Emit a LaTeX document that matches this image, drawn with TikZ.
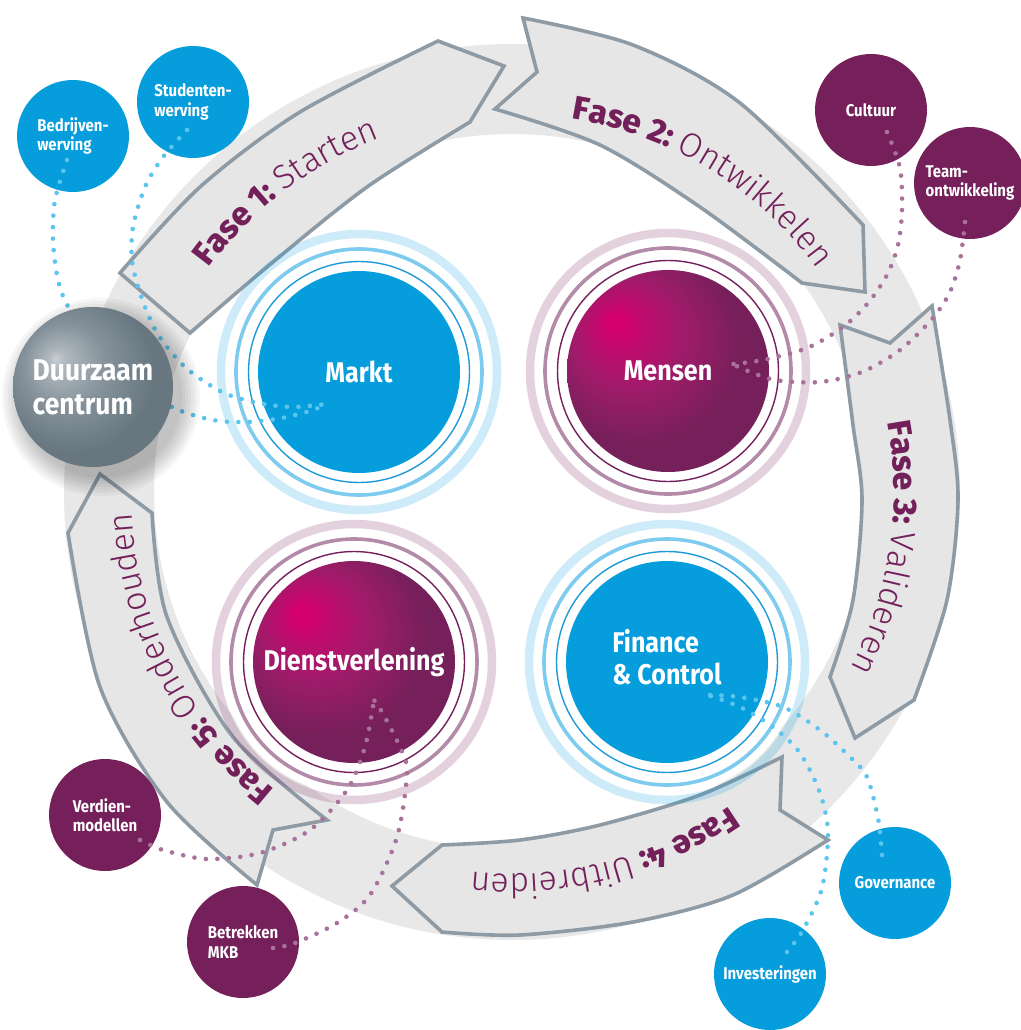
\documentclass[tikz,border=0pt]{standalone}
\usepackage{fontspec}
\usetikzlibrary{decorations.text}
\setmainfont{Fira Sans}
\newfontfamily\condf[FakeStretch=0.88]{Fira Sans}
\IfFontExistsTF{Fira Sans ExtraBold}{\newfontfamily\fphb{Fira Sans ExtraBold}\newcommand\fphbser{}}{\newfontfamily\fphb{Fira Sans}\newcommand\fphbser{\bfseries}}
\IfFontExistsTF{Fira Sans Light}{\newfontfamily\fphl{Fira Sans Light}}{\newfontfamily\fphl{Fira Sans}}
\newcommand\PHB{\fontsize{33}{40}\selectfont\fphb\fphbser}
\newcommand\PHL{\fontsize{34}{40}\selectfont\fphl}

\definecolor{ringg}{HTML}{E8E8E8}
\definecolor{arrfill}{HTML}{E6E6E6}
\definecolor{arrline}{HTML}{8E9BA5}
\definecolor{blueF}{HTML}{069DDC}
\definecolor{blueThin}{HTML}{1E9BD7}
\definecolor{blueMid}{HTML}{7DCBEE}
\definecolor{purF}{HTML}{75205A}
\definecolor{purMid}{HTML}{B38BA8}
\definecolor{magA}{HTML}{D4006E}
\definecolor{magB}{HTML}{C00B6E}
\definecolor{magC}{HTML}{9E1C69}
\definecolor{sphA}{HTML}{C8CED2}
\definecolor{sphB}{HTML}{AEB7BD}
\definecolor{sphC}{HTML}{85929B}
\definecolor{sphD}{HTML}{67767F}
\definecolor{dotB}{HTML}{5BC4EF}
\definecolor{dotP}{HTML}{A9729B}
\definecolor{phaseP}{HTML}{73205A}

\pgfdeclareradialshading{magg}{\pgfpoint{-13.6bp}{12.6bp}}{color(0bp)=(magA); color(2bp)=(magA); color(6bp)=(magB); color(14bp)=(magC); color(25bp)=(purF); color(50bp)=(purF)}
\pgfdeclareradialshading{sphg}{\pgfpoint{-11.9bp}{9bp}}{color(0bp)=(sphA); color(3bp)=(sphB); color(13bp)=(sphC); color(25bp)=(sphD); color(50bp)=(sphD)}

\newcommand\phlabel[4]{%
  \path[shift={(512,492)}, decorate, decoration={text along path, text align=center,
    text color=phaseP, text={|\PHB|#3 |\PHL|#4}}]
    (#1-60:#2) arc[start angle=#1-60, end angle=#1+60, radius=#2];}

\newcommand\bigrings[4]{%
  \fill[white] (#1) circle[radius=132];
  \draw[#4, line width=8.5pt, opacity=0.2] (#1) circle[radius=138];
  \draw[#3, line width=3.6pt] (#1) circle[radius=123];
  \draw[#2, line width=1.4pt] (#1) circle[radius=110.5];}

\begin{document}
\begin{tikzpicture}[x=1pt, y=-1pt,
  arrowshape/.style={fill=arrfill, draw=arrline, line width=3.6pt, line join=miter},
  smallB/.style={circle, fill=blueF, minimum size=112pt, inner sep=0pt, text=white,
    font=\condf\bfseries\fontsize{17}{19.5}\selectfont, align=left},
  smallP/.style={smallB, fill=purF},
  bigB/.style={circle, fill=blueF, minimum size=202pt, inner sep=0pt, text=white,
    font=\condf\bfseries\fontsize{28.5}{32}\selectfont, align=left},
  bigP/.style={bigB, fill=none, shade, shading=magg},
  sphere/.style={circle, shade, shading=sphg, minimum size=160pt, inner sep=0pt, text=white,
    font=\condf\bfseries\fontsize{30}{34}\selectfont, align=left},
  bdots/.style={dotB, line width=4.6pt, line cap=round, dash pattern=on 0pt off 11.5pt},
  pdots/.style={bdots, draw=dotP}]

\fill[white] (0,0) rectangle (1020,1030);
\useasboundingbox (0,0) rectangle (1020,1030);

% grey ring band
\fill[ringg, even odd rule] (512,492) circle[radius=448] (512,492) circle[radius=358];

% Fase 1
\filldraw[arrowshape] (120,273) -- plot[smooth] coordinates {(120,273) (200,187) (300,112) (438,41)}
  -- (504,66) -- (470,122)
  -- plot[smooth] coordinates {(470,122) (367,187) (267,267) (190,333)} -- cycle;
% Fase 2
\filldraw[arrowshape] (523,18) -- plot[smooth] coordinates {(523,18) (633,45) (740,103) (863,225)}
  -- (865,292) -- (802,283)
  -- plot[smooth] coordinates {(802,283) (700,207) (600,145) (495,109)} -- (537,72) -- cycle;
% Fase 3
\filldraw[arrowshape] (932,306) -- plot[smooth] coordinates {(932,306) (950,420) (958,500) (947,600) (914,700)}
  -- (855,738) -- (830,677)
  -- plot[smooth] coordinates {(830,677) (853,600) (862,500) (853,425) (840,325)} -- (890,343) -- cycle;
% Fase 4
\filldraw[arrowshape] (828,840) -- plot[smooth] coordinates {(828,840) (733,895) (633,922) (520,935) (442,932)}
  -- (392,886) -- (442,845)
  -- plot[smooth] coordinates {(442,845) (520,840) (600,825) (700,795) (782,757)} -- (780,810) -- cycle;
% Fase 5
\filldraw[arrowshape] (257,885) -- plot[smooth] coordinates {(257,885) (167,802) (100,687) (68,533)}
  -- (100,474) -- (152,513)
  -- plot[smooth] coordinates {(152,513) (167,617) (233,737) (327,820)} -- (273,830) -- cycle;

% phase labels
\phlabel{233}{377}{Fase 1:}{Starten}
\phlabel{301.5}{378}{Fase 2:}{Ontwikkelen}
\phlabel{8.5}{382}{Fase 3:}{Valideren}
\phlabel{75.7}{382}{Fase 4:}{Uitbreiden}
\phlabel{152.7}{381}{Fase 5:}{Onderhouden}

% big circles
\coordinate (cM) at (359,372);
\coordinate (cP) at (668,371);
\coordinate (cD) at (354,662);
\coordinate (cF) at (667,662);
\bigrings{cM}{blueThin}{blueMid}{blueF}
\bigrings{cP}{purF}{purMid}{purF}
\bigrings{cD}{purF}{purMid}{purF}
\bigrings{cF}{blueThin}{blueMid}{blueF}
\node[bigB] (markt) at (cM) {Markt};
\node[bigP] (mensen) at (cP) {Mensen};
\node[bigP] (dienst) at (cD) {Dienstverlening};
\node[bigB] (fin) at (cF) {Finance\\\& Control\\[-21pt]};

% small circles
\node[smallB] (bedr) at (73,136) {Bedrijven-\\werving};
\node[smallB] (stud) at (193,102) {Studenten-\\werving};
\node[smallP] (cult) at (871,110) {Cultuur};
\node[smallP] (team) at (970,183) {Team-\\ontwikkeling};
\node[smallB] (gov) at (895,883) {Governance};
\node[smallB] (inv) at (770,974) {Investeringen};
\node[smallP] (verd) at (105,815) {Verdien-\\modellen};
\node[smallP] (betr) at (243,942) {Betrekken\\MKB};

% connector ends
\coordinate (bedr-o) at (67,160);
\coordinate (stud-o) at (187,130);
\coordinate (cult-o) at (887,132);
\coordinate (team-o) at (965,222);
\coordinate (gov-o) at (882,855);
\coordinate (inv-o) at (787,952);
\coordinate (verd-o) at (140,840);
\coordinate (betr-o) at (273,948);
\coordinate (markt-i) at (326,404);
\coordinate (mensen-i) at (733,364);
\coordinate (fin-i) at (708,695);
\coordinate (dienst-i) at (374,700);

% dotted connectors
\draw[bdots] plot[smooth] coordinates {(bedr-o) (55,200) (53,240) (58,280) (70,310) (110,370) (172,407) (213,420) (247,422) (282,418) (313,410) (markt-i)};
\draw[bdots] plot[smooth] coordinates {(stud-o) (163,157) (145,187) (133,227) (132,260) (140,293) (157,333) (185,367) (222,392) (258,403) (293,407) (markt-i)};
\draw[pdots] plot[smooth] coordinates {(cult-o) (900,168) (902,210) (898,245) (887,275) (868,303) (843,327) (807,348) (763,360) (mensen-i)};
\draw[pdots] plot[smooth] coordinates {(team-o) (960,260) (950,292) (932,319) (900,350) (862,372) (820,382) (775,380) (743,369) (mensen-i)};
\draw[bdots] plot[smooth] coordinates {(gov-o) (878,818) (867,777) (850,757) (820,730) (783,707) (740,697) (fin-i)};
\draw[bdots] plot[smooth] coordinates {(inv-o) (803,930) (822,888) (828,833) (820,793) (800,753) (773,727) (740,707) (fin-i)};
\draw[pdots] plot[smooth] coordinates {(verd-o) (163,850) (207,859) (260,853) (310,830) (347,790) (365,747) (dienst-i)};
\draw[pdots] plot[smooth] coordinates {(betr-o) (295,943) (337,923) (370,895) (397,837) (407,773) (400,747) (382,712) (dienst-i)};

% sphere with soft shadow
\foreach \rr in {81,84,...,99} \fill[black, opacity=0.035] (101,397) circle[radius=\rr];
\node[sphere] (duur) at (93,387) {Duurzaam\\centrum};
\end{tikzpicture}
\end{document}
